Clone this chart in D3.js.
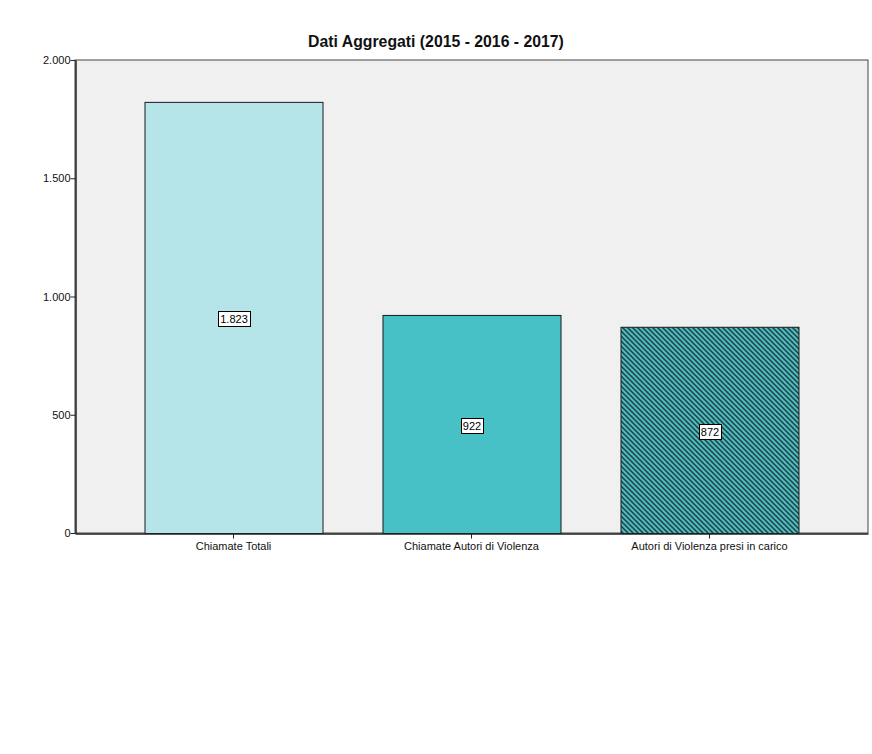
<!DOCTYPE html>
<html><head><meta charset="utf-8">
<script src="https://cdn.jsdelivr.net/npm/d3@7"></script>
<style>body{margin:0;background:#fff}svg{display:block}</style>
</head><body>
<script>
const categories = ["Chiamate Totali", "Chiamate Autori di Violenza", "Autori di Violenza presi in carico"];
const values = [1823, 922, 872];
const valueLabels = ["1.823", "922", "872"];
const yTicks = [0, 500, 1000, 1500, 2000];
const yTickLabels = ["0", "500", "1.000", "1.500", "2.000"];
const title = "Dati Aggregati (2015 - 2016 - 2017)";

const W = 872, H = 754;
const m = {left: 75, right: 4, top: 60, bottom: 221};
const svg = d3.select("body").append("svg").attr("width", W).attr("height", H);
const defs = svg.append("defs");
const pat = defs.append("pattern").attr("id", "hatch").attr("patternUnits", "userSpaceOnUse")
  .attr("width", 5).attr("height", 5);
pat.append("rect").attr("width", 5).attr("height", 5).attr("fill", "#4cbcc1");
pat.append("path").attr("d", "M-1,-1 L6,6 M-1,4 L1,6 M4,-1 L6,1").attr("stroke", "#1f3f42").attr("stroke-width", 1.5);

const x = d3.scaleBand().domain(categories).range([m.left, W - m.right]).paddingInner(0.252).paddingOuter(0.292);
const y = d3.scaleLinear().domain([0, 2000]).range([H - m.bottom, m.top]);

svg.append("rect").attr("x", m.left).attr("y", m.top).attr("width", W - m.right - m.left).attr("height", H - m.bottom - m.top)
  .attr("fill", "#f0f0f0").attr("stroke", "#444").attr("stroke-width", 1);

const fills = ["#b5e5e8", "#48c1c6", "url(#hatch)"];
svg.selectAll(".bar").data(values).enter().append("rect")
  .attr("x", (d, i) => x(categories[i]) + 0.5).attr("y", d => y(d) + 0.5)
  .attr("width", x.bandwidth()).attr("height", d => y(0) - y(d))
  .attr("fill", (d, i) => fills[i]).attr("stroke", "#1a1a1a").attr("stroke-width", 1);

// axes
const yAxis = d3.axisLeft(y).tickValues(yTicks).tickFormat((d, i) => yTickLabels[i]).tickSize(5).tickSizeOuter(0);
const gy = svg.append("g").attr("transform", `translate(${m.left + 0.5},0)`).call(yAxis);
const xAxis = d3.axisBottom(x).tickSize(5).tickSizeOuter(0);
const gx = svg.append("g").attr("transform", `translate(0,${H - m.bottom + 0.5})`).call(xAxis);
[gy, gx].forEach(g => {
  g.select(".domain").attr("stroke", "#222").attr("stroke-width", 1.5);
  g.selectAll(".tick line").attr("stroke", "#222");
  g.selectAll("text").attr("font-family", "Arial, Liberation Sans, sans-serif").attr("font-size", 11).attr("fill", "#111");
});
gy.selectAll("text").attr("x", -5);
gx.selectAll("text").attr("y", 9);

// value labels
values.forEach((v, i) => {
  const cx = x(categories[i]) + x.bandwidth() / 2 + 0.5;
  const cy = y(v / 2) + 2;
  const t = svg.append("text").attr("x", cx).attr("y", cy + 4).attr("text-anchor", "middle")
    .attr("font-family", "Arial, Liberation Sans, sans-serif").attr("font-size", 11).attr("fill", "#000").text(valueLabels[i]);
  const bb = t.node().getBBox();
  svg.insert("rect", () => t.node()).attr("x", Math.round(bb.x - 2) + 0.5).attr("y", Math.round(cy - 8) + 0.5)
    .attr("width", Math.round(bb.width + 4)).attr("height", 15).attr("fill", "#fff").attr("stroke", "#000");
});

svg.append("text").attr("x", 436).attr("y", 47).attr("text-anchor", "middle")
  .attr("font-family", "Arial, Liberation Sans, sans-serif").attr("font-size", 15.8).attr("font-weight", "bold").attr("fill", "#111").text(title);
</script>
</body></html>
